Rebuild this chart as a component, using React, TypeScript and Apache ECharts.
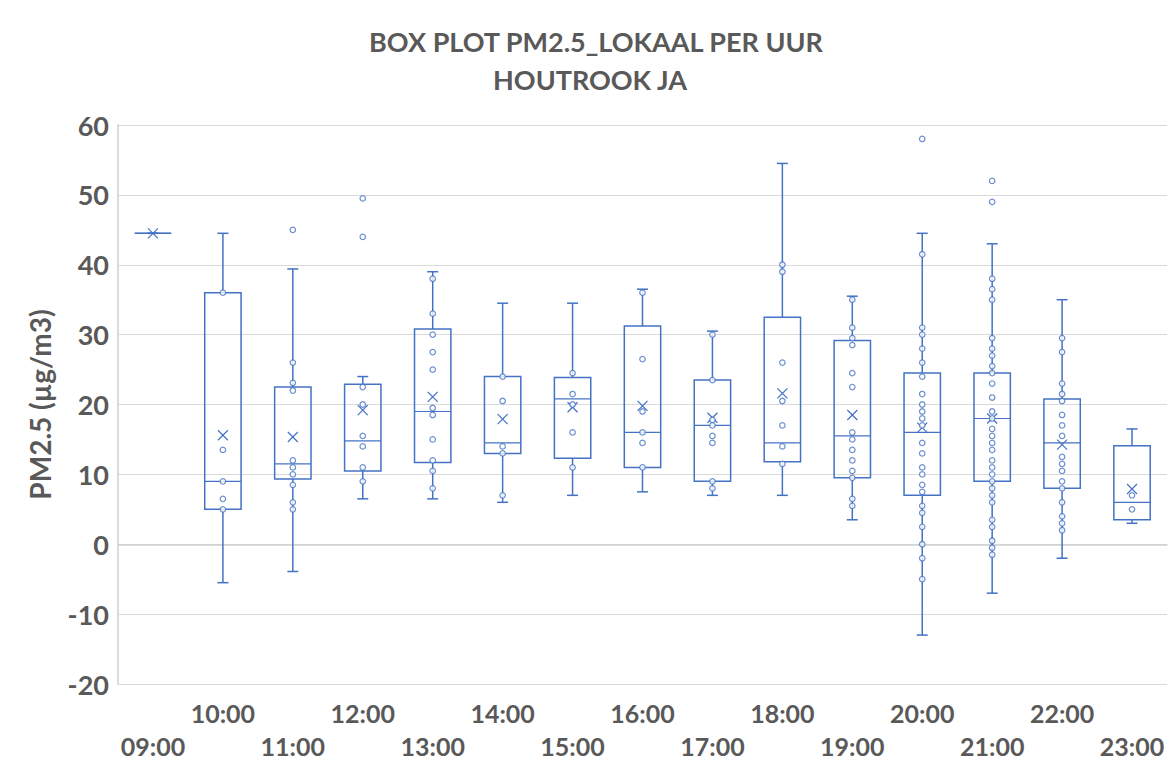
import React, { useEffect, useRef } from "react";
import * as echarts from "echarts";

const categories = ["09:00", "10:00", "11:00", "12:00", "13:00", "14:00", "15:00", "16:00", "17:00", "18:00", "19:00", "20:00", "21:00", "22:00", "23:00"];

const whiskerLow = [44.5, -5.5, -3.9, 6.5, 6.5, 6.0, 7.0, 7.5, 7.0, 7.0, 3.5, -13.0, -7.0, -2.0, 3.0];
const quartile1 = [44.5, 5.0, 9.35, 10.5, 11.7, 13.0, 12.3, 11.0, 9.0, 11.8, 9.5, 7.0, 9.0, 8.0, 3.5];
const medians = [44.5, 9.0, 11.5, 14.8, 19.0, 14.5, 20.8, 16.0, 17.0, 14.5, 15.5, 16.0, 18.0, 14.5, 6.0];
const quartile3 = [44.5, 36.0, 22.5, 22.9, 30.8, 24.0, 23.85, 31.25, 23.5, 32.5, 29.15, 24.5, 24.5, 20.8, 14.1];
const whiskerHigh = [44.5, 44.5, 39.4, 24.0, 39.0, 34.5, 34.5, 36.5, 30.5, 54.5, 35.5, 44.5, 43.0, 35.0, 16.5];
const means = [44.5, 15.6, 15.35, 19.2, 21.1, 17.9, 19.6, 19.8, 18.1, 21.6, 18.5, 16.7, 18.0, 14.25, 7.9];

const points: number[][] = [
  [],
  [36, 13.5, 9, 6.5, 5],
  [45, 26, 23.1, 22, 12, 11, 10, 8.5, 6, 5],
  [49.5, 44, 22.5, 20, 15.5, 14, 11, 9],
  [38, 33, 30, 27.5, 25, 19.5, 18.5, 15, 12, 10.5, 8],
  [24, 20.5, 14, 13, 7],
  [24.5, 21.5, 20, 16, 11],
  [36, 26.5, 19, 16, 14.5, 11],
  [30, 23.5, 17.8, 17, 15.5, 14.5, 9, 8],
  [40, 39, 26, 20.5, 17, 14, 11.5],
  [35, 31, 29.5, 28.5, 24.5, 22.5, 16, 15, 13.5, 12, 10.5, 9.5, 6.5, 5.5],
  [58, 41.5, 31, 30, 28, 26, 24, 21.5, 20, 19, 18, 17, 14.5, 13, 11, 10, 8.5, 7.5, 5.5, 4.5, 2.5, 0, -2, -5],
  [52, 49, 38, 36.5, 35, 29.5, 28, 27, 25.5, 24.5, 23, 21, 19, 18, 16.5, 15.5, 14.5, 13.5, 12, 11, 10, 9, 8, 7, 6, 3.5, 2.5, 0.5, -0.5, -1.5],
  [29.5, 27.5, 23, 21.5, 20.5, 18.5, 17, 15.5, 12.5, 11.5, 10.5, 9, 8, 6, 4, 3, 2],
  [7, 5],
];

const yTicks = { min: -20, max: 60, interval: 10 };

const BLUE = "#4472C4";
const TEXT = "#595959";
const FONT = "Lato, 'Open Sans', sans-serif";

export default function App() {
  const ref = useRef<HTMLDivElement>(null);
  useEffect(() => {
    if (!ref.current) return;
    const chart = echarts.init(ref.current, null, { renderer: "svg" });
    const boxData = categories.map((_, i) => [
      i,
      whiskerLow[i],
      quartile1[i],
      medians[i],
      quartile3[i],
      whiskerHigh[i],
      means[i],
    ]);
    const pointData: number[][] = [];
    points.forEach((arr, i) => arr.forEach((v) => pointData.push([i, v])));

    chart.setOption({
      animation: false,
      backgroundColor: "#ffffff",
      graphic: [
        {
          type: "text",
          x: 596,
          y: 41,
          style: {
            text: "BOX PLOT PM2.5_LOKAAL PER UUR",
            textAlign: "center",
            textVerticalAlign: "middle",
            fontSize: 27,
            fontWeight: "bold",
            fontFamily: FONT,
            fill: TEXT,
          },
        },
        {
          type: "text",
          x: 590,
          y: 79,
          style: {
            text: "HOUTROOK JA",
            textAlign: "center",
            textVerticalAlign: "middle",
            fontSize: 27,
            fontWeight: "bold",
            fontFamily: FONT,
            fill: TEXT,
          },
        },
      ],
      grid: { left: 118, right: 6, top: 125, bottom: 83 },
      xAxis: {
        type: "category",
        data: categories,
        boundaryGap: true,
        axisLine: { show: true, lineStyle: { color: "#D0D0D0", width: 1.5 } },
        axisTick: { show: false },
        splitLine: { show: false },
        axisLabel: {
          interval: 0,
          margin: 12,
          fontSize: 25,
          fontWeight: "bold",
          fontFamily: FONT,
          color: TEXT,
          lineHeight: 33,
          formatter: (v: string, idx: number) => (idx % 2 === 0 ? "\n" + v : v),
        },
      },
      yAxis: {
        type: "value",
        min: yTicks.min,
        max: yTicks.max,
        interval: yTicks.interval,
        name: "PM2.5 (µg/m3)",
        nameLocation: "middle",
        nameGap: 64,
        nameTextStyle: {
          fontSize: 28,
          fontWeight: "bold",
          fontFamily: FONT,
          color: TEXT,
        },
        axisLine: { show: true, lineStyle: { color: "#D0D0D0", width: 1.5 } },
        axisTick: { show: false },
        splitLine: { show: true, lineStyle: { color: "#D9D9D9", width: 1 } },
        axisLabel: {
          margin: 9,
          fontSize: 27,
          fontWeight: "bold",
          fontFamily: FONT,
          color: TEXT,
        },
      },
      series: [
        {
          type: "custom",
          data: boxData,
          encode: { x: 0, y: [1, 2, 3, 4, 5] },
          z: 2,
          renderItem: (params: any, api: any) => {
            const i = api.value(0);
            const lo = api.coord([i, api.value(1)]);
            const q1 = api.coord([i, api.value(2)]);
            const md = api.coord([i, api.value(3)]);
            const q3 = api.coord([i, api.value(4)]);
            const hi = api.coord([i, api.value(5)]);
            const mn = api.coord([i, api.value(6)]);
            const cx = lo[0];
            const bandW = api.size([1, 0])[0];
            const half = bandW * 0.26;
            const cap = 5.5;
            const xs = 5;
            const stroke = { stroke: BLUE, lineWidth: 1.5, fill: "none" };
            return {
              type: "group",
              children: [
                { type: "line", shape: { x1: cx, y1: q3[1], x2: cx, y2: hi[1] }, style: stroke },
                { type: "line", shape: { x1: cx, y1: q1[1], x2: cx, y2: lo[1] }, style: stroke },
                { type: "line", shape: { x1: cx - cap, y1: hi[1], x2: cx + cap, y2: hi[1] }, style: stroke },
                { type: "line", shape: { x1: cx - cap, y1: lo[1], x2: cx + cap, y2: lo[1] }, style: stroke },
                {
                  type: "rect",
                  shape: { x: cx - half, y: q3[1], width: half * 2, height: q1[1] - q3[1] },
                  style: { stroke: BLUE, lineWidth: 1.5, fill: "none" },
                },
                { type: "line", shape: { x1: cx - half, y1: md[1], x2: cx + half, y2: md[1] }, style: { stroke: BLUE, lineWidth: 1.2 } },
                { type: "line", shape: { x1: cx - xs, y1: mn[1] - xs, x2: cx + xs, y2: mn[1] + xs }, style: { stroke: BLUE, lineWidth: 1.2 } },
                { type: "line", shape: { x1: cx - xs, y1: mn[1] + xs, x2: cx + xs, y2: mn[1] - xs }, style: { stroke: BLUE, lineWidth: 1.2 } },
              ],
            };
          },
        },
        {
          type: "scatter",
          data: pointData,
          symbol: "circle",
          symbolSize: 5.5,
          z: 3,
          itemStyle: { color: "#ffffff", borderColor: BLUE, borderWidth: 1.2 },
        },
      ],
    });
    return () => chart.dispose();
  }, []);
  return (
    <div
      ref={ref}
      style={{ position: "absolute", left: 0, top: 0, width: 1173, height: 767, background: "#fff" }}
    />
  );
}
